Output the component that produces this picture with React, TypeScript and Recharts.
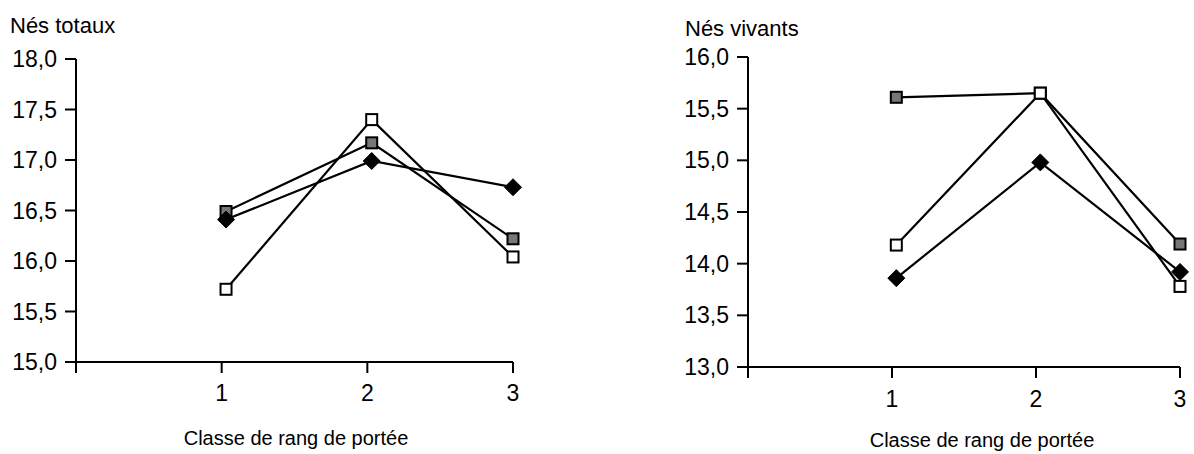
import React from 'react';
import { LineChart, Line, XAxis, YAxis } from 'recharts';

// Classe de rang de portée (point positions)
const classes = [1.03, 2.03, 3];
const xTicks = [0, 1, 2, 3];

// Nés totaux
const totauxGris = [16.49, 17.17, 16.22];
const totauxBlanc = [15.72, 17.4, 16.04];
const totauxLosange = [16.41, 16.99, 16.73];
const totauxTicks = [15, 15.5, 16, 16.5, 17, 17.5, 18];

// Nés vivants
const vivantsGris = [15.61, 15.65, 14.19];
const vivantsBlanc = [14.18, 15.65, 13.78];
const vivantsLosange = [13.86, 14.98, 13.92];
const vivantsTicks = [13, 13.5, 14, 14.5, 15, 15.5, 16];

const FONT = 'Liberation Sans';
const fmt = (v: number) => v.toFixed(1).replace('.', ',');
const xFmt = (v: number) => (v === 0 ? '' : String(v));

const buildRows = (g: number[], w: number[], d: number[]) =>
  classes.map((x, i) => ({ x, gris: g[i], blanc: w[i], losange: d[i] }));

const totauxRows = buildRows(totauxGris, totauxBlanc, totauxLosange);
const vivantsRows = buildRows(vivantsGris, vivantsBlanc, vivantsLosange);

const squareDot = (fill: string) => (props: any) => {
  const { cx, cy, index } = props;
  if (cx == null || cy == null) return <g key={index} />;
  return (
    <rect key={index} x={cx - 5.5} y={cy - 5.5} width={11} height={11} fill={fill} stroke="#000" strokeWidth={2} />
  );
};

const diamondDot = (props: any) => {
  const { cx, cy, index } = props;
  if (cx == null || cy == null) return <g key={index} />;
  return (
    <path key={index} d={`M${cx},${cy - 8.5} L${cx + 8.5},${cy} L${cx},${cy + 8.5} L${cx - 8.5},${cy} Z`} fill="#000" stroke="#000" strokeWidth={1} />
  );
};

type PanelProps = {
  rows: any[];
  left: number;
  width: number;
  top: number;
  right: number;
  yWidth: number;
  xHeight: number;
  domain: [number, number];
  ticks: number[];
  title: string;
  titleX: number;
  titleY: number;
  xLabelX: number;
  xLabelY: number;
  xTickMargin: number;
};

const Panel = (p: PanelProps) => (
  <div style={{ position: 'absolute', left: p.left, top: 0 }}>
    <LineChart
      width={p.width}
      height={454}
      data={p.rows}
      margin={{ top: p.top, right: p.right, left: 0, bottom: 0 }}
    >
      <XAxis
        dataKey="x"
        type="number"
        domain={[0, 3]}
        ticks={xTicks}
        tickFormatter={xFmt}
        height={p.xHeight}
        axisLine={{ stroke: '#000', strokeWidth: 2 }}
        tickLine={{ stroke: '#000', strokeWidth: 2 }}
        tickSize={11}
        tickMargin={p.xTickMargin}
        tick={{ fill: '#000', fontSize: 23, fontFamily: FONT }}
        label={{
          content: () => (
            <text x={p.xLabelX} y={p.xLabelY} textAnchor="middle" fill="#000" fontSize={20} fontFamily={FONT}>
              Classe de rang de portée
            </text>
          ),
        }}
      />
      <YAxis
        type="number"
        domain={p.domain}
        ticks={p.ticks}
        tickFormatter={fmt}
        width={p.yWidth}
        axisLine={{ stroke: '#000', strokeWidth: 2 }}
        tickLine={{ stroke: '#000', strokeWidth: 2 }}
        tickSize={11}
        tickMargin={8}
        tick={{ fill: '#000', fontSize: 23, fontFamily: FONT }}
        label={{
          content: () => (
            <text x={p.titleX} y={p.titleY} textAnchor="start" fill="#000" fontSize={22} fontFamily={FONT}>
              {p.title}
            </text>
          ),
        }}
      />
      <Line type="linear" dataKey="gris" stroke="#000" strokeWidth={2.2} dot={squareDot('#777')} isAnimationActive={false} />
      <Line type="linear" dataKey="blanc" stroke="#000" strokeWidth={2.2} dot={squareDot('#fff')} isAnimationActive={false} />
      <Line type="linear" dataKey="losange" stroke="#000" strokeWidth={2.2} dot={diamondDot} isAnimationActive={false} />
    </LineChart>
  </div>
);

export default function App() {
  return (
    <div style={{ position: 'absolute', left: 0, top: 0, width: 1194, height: 454, background: '#fff' }}>
      <Panel
        rows={totauxRows}
        left={0}
        width={530}
        top={59}
        right={17}
        yWidth={76}
        xHeight={92}
        domain={[15, 18]}
        ticks={totauxTicks}
        title="Nés totaux"
        titleX={10}
        titleY={33}
        xLabelX={296}
        xLabelY={445}
        xTickMargin={12}
      />
      <Panel
        rows={vivantsRows}
        left={640}
        width={554}
        top={57}
        right={14}
        yWidth={108}
        xHeight={87}
        domain={[13, 16]}
        ticks={vivantsTicks}
        title="Nés vivants"
        titleX={45}
        titleY={36}
        xLabelX={342}
        xLabelY={447}
        xTickMargin={13}
      />
    </div>
  );
}
